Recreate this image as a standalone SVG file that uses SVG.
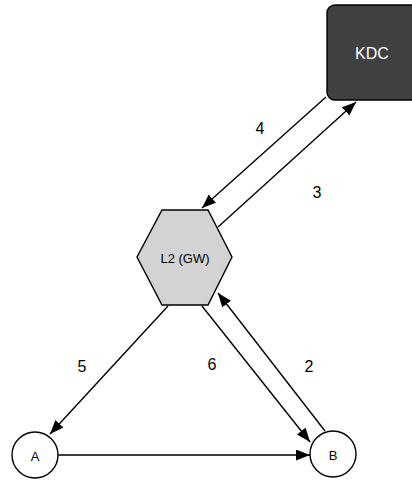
<svg xmlns="http://www.w3.org/2000/svg" width="412" height="480" viewBox="0 0 412 480">
<defs>
<marker id="arr" markerUnits="userSpaceOnUse" markerWidth="15" markerHeight="12" refX="14" refY="5.5" orient="auto">
<path d="M0,0 L14,5.5 L0,11 z" fill="#000"/>
</marker>
<style>
.edge{stroke:#000;stroke-width:1.4;fill:none;marker-end:url(#arr)}
.lbl{font-family:"Liberation Sans",Arial,sans-serif;font-size:16px;fill:#000;text-anchor:middle}
.nt{font-family:"Liberation Sans",Arial,sans-serif;text-anchor:middle;dominant-baseline:central}
</style>
</defs>
<rect width="412" height="480" fill="#fff"/>
<g id="edges">
<line class="edge" x1="326" y1="97" x2="202" y2="208"/>
<line class="edge" x1="218" y1="227" x2="356" y2="102"/>
<line class="edge" x1="168" y1="306" x2="50" y2="434"/>
<line class="edge" x1="202" y1="306" x2="310" y2="442"/>
<line class="edge" x1="325" y1="431" x2="218" y2="293"/>
<line class="edge" x1="58" y1="455" x2="310" y2="455"/>
</g>
<g id="labels">
<text class="lbl" x="260" y="134">4</text>
<text class="lbl" x="317" y="198">3</text>
<text class="lbl" x="82" y="372">5</text>
<text class="lbl" x="212" y="370">6</text>
<text class="lbl" x="309" y="372">2</text>
</g>
<g id="KDC">
<rect x="327" y="5" width="92" height="95" rx="8" fill="#404040" stroke="#000" stroke-width="1.4"/>
<text class="nt" x="372" y="53" font-size="16" fill="#fff">KDC</text>
</g>
<g id="L2">
<polygon points="162,210 208,210 232,257 208,305 162,305 137,257" fill="#d3d3d3" stroke="#000" stroke-width="1.4"/>
<text class="nt" x="185" y="258" font-size="13" fill="#000">L2 (GW)</text>
</g>
<g id="A">
<circle cx="35" cy="455" r="23" fill="#fff" stroke="#000" stroke-width="1.4"/>
<text class="nt" x="35" y="456" font-size="13" fill="#000">A</text>
</g>
<g id="B">
<circle cx="333" cy="454" r="23" fill="#fff" stroke="#000" stroke-width="1.4"/>
<text class="nt" x="333" y="455" font-size="13" fill="#000">B</text>
</g>
</svg>
